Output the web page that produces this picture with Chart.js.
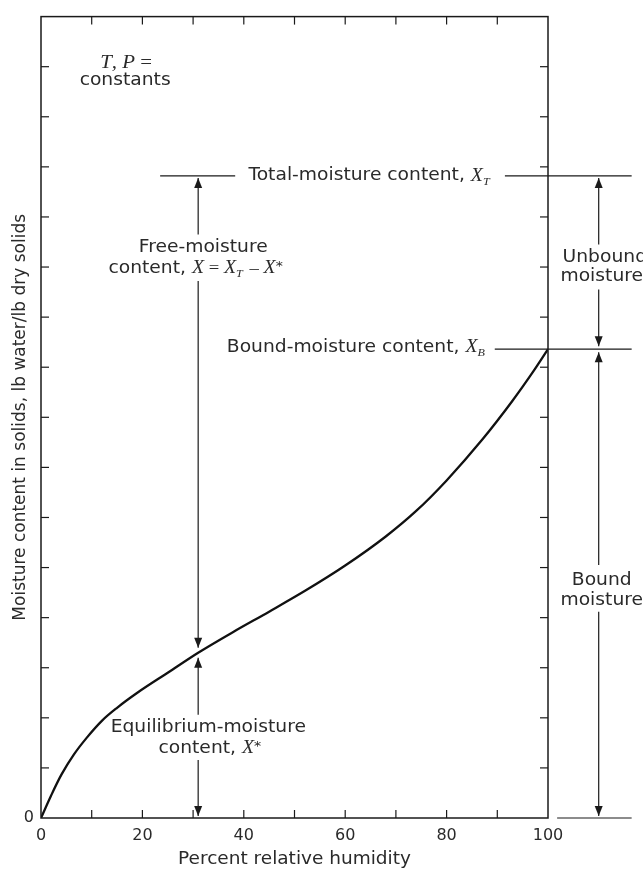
<!DOCTYPE html>
<html>
<head>
<meta charset="utf-8">
<script src="https://cdn.jsdelivr.net/npm/chart.js@4"></script>
<style>
html,body{margin:0;padding:0;background:#fff;}
#wrap{width:643px;height:873px;}
</style>
</head>
<body>
<div id="wrap"><canvas id="c" width="643" height="873"></canvas></div>
<script>
// ---- data ----
const humidity = [0, 2, 4, 6.5, 9, 12, 15, 19, 25, 31, 38, 45, 52, 60, 68, 74, 80, 87, 93, 97, 100];
const moisture = [0, 0.45, 0.86, 1.27, 1.6, 1.94, 2.2, 2.5, 2.9, 3.3, 3.72, 4.12, 4.53, 5.04, 5.62, 6.13, 6.74, 7.55, 8.33, 8.9, 9.36];
const xTickLabels = ['0', '20', '40', '60', '80', '100'];
const yTickLabels = ['0'];
const totalMoistureLevel = 12.82;   // X_T
const boundMoistureLevel = 9.36;    // X_B
const sampleHumidity = 31;          // where X and X* are shown
const equilibriumMoisture = 3.3;    // X* at sampleHumidity

const SANS = '"DejaVu Sans", sans-serif';
const SERIF = '"Liberation Serif", "DejaVu Serif", serif';
const TXT = '#2a2a2a';
const LINE = '#1a1a1a';
const STRETCH = 1.1;

function runsWidth(ctx, runs){
  let w = 0;
  for (const r of runs){ ctx.font = r.font; w += ctx.measureText(r.t).width + (r.kern||0); }
  return w;
}
function drawRuns(ctx, runs, cx, cy){
  const w = runsWidth(ctx, runs);
  ctx.save();
  ctx.translate(cx, cy);
  ctx.scale(STRETCH, 1);
  let x = -w/2;
  ctx.textBaseline = 'middle';
  ctx.textAlign = 'left';
  for (const r of runs){
    ctx.font = r.font;
    ctx.fillText(r.t, x, (r.dy||0));
    x += ctx.measureText(r.t).width + (r.kern||0);
  }
  ctx.restore();
}
function arrowHead(ctx, x, tipY, dir){ // dir -1 up, +1 down
  const L = 10, W = 4;
  ctx.beginPath();
  ctx.moveTo(x, tipY);
  ctx.lineTo(x - W, tipY - dir*L);
  ctx.lineTo(x + W, tipY - dir*L);
  ctx.closePath();
  ctx.fill();
}
function vline(ctx, x, y1, y2){ ctx.beginPath(); ctx.moveTo(x,y1); ctx.lineTo(x,y2); ctx.stroke(); }
function hline(ctx, x1, x2, y){ ctx.beginPath(); ctx.moveTo(x1,y); ctx.lineTo(x2,y); ctx.stroke(); }

const annotate = {
  id: 'annotate',
  afterDraw(chart){
    const ctx = chart.ctx;
    const xs = chart.scales.x, ys = chart.scales.y;
    const X = v => xs.getPixelForValue(v);
    const Y = v => ys.getPixelForValue(v);
    const a = chart.chartArea;
    ctx.save();
    // frame
    ctx.strokeStyle = LINE; ctx.lineWidth = 1.5;
    ctx.strokeRect(a.left, a.top, a.right - a.left, a.bottom - a.top);
    // inward ticks
    ctx.lineWidth = 1.2;
    const tl = 8;
    for (const t of xs.ticks){
      const px = X(t.value);
      if (t.value <= xs.min || t.value >= xs.max) continue;
      vline(ctx, px, a.bottom, a.bottom - tl);
      vline(ctx, px, a.top, a.top + tl);
    }
    for (const t of ys.ticks){
      const py = Y(t.value);
      if (t.value <= ys.min || t.value >= ys.max) continue;
      hline(ctx, a.left, a.left + tl, py);
      hline(ctx, a.right, a.right - tl, py);
    }

    ctx.fillStyle = LINE; ctx.strokeStyle = LINE; ctx.lineWidth = 1.2;
    const fs = 17;
    const F = fs + 'px ' + SANS;
    const FI = 'italic ' + (fs+1) + 'px ' + SERIF;
    const FS = 'italic ' + (fs-6) + 'px ' + SERIF;

    // Total moisture line
    const yT = Y(totalMoistureLevel);
    hline(ctx, X(23.5), X(38.3), yT);
    hline(ctx, X(91.5), X(116.5), yT);
    // Bound moisture line
    const yB = Y(boundMoistureLevel);
    hline(ctx, X(89.5), X(116.5), yB);
    // bottom reference line on right
    hline(ctx, X(101.8), X(116.5), Y(0));

    // free-moisture arrows at sample humidity
    const ax = X(sampleHumidity);
    const yStar = Y(equilibriumMoisture);
    vline(ctx, ax, yT + 2, Y(11.65));
    arrowHead(ctx, ax, yT + 2, -1);
    vline(ctx, ax, Y(10.72), yStar - 5);
    arrowHead(ctx, ax, yStar - 5, 1);
    vline(ctx, ax, yStar + 5, Y(2.06));
    arrowHead(ctx, ax, yStar + 5, -1);
    vline(ctx, ax, Y(1.16), Y(0) - 2);
    arrowHead(ctx, ax, Y(0) - 2, 1);

    // right-hand arrows
    const rx = X(110);
    vline(ctx, rx, yT + 2, Y(11.45));
    arrowHead(ctx, rx, yT + 2, -1);
    vline(ctx, rx, Y(10.55), yB - 3);
    arrowHead(ctx, rx, yB - 3, 1);
    vline(ctx, rx, yB + 3, Y(5.05));
    arrowHead(ctx, rx, yB + 3, -1);
    vline(ctx, rx, Y(4.12), Y(0) - 2);
    arrowHead(ctx, rx, Y(0) - 2, 1);

    ctx.fillStyle = TXT;
    // texts
    const FI2 = 'italic 19px ' + SERIF;
    drawRuns(ctx, [{t:'T', font:FI2}, {t:', ', font:FI2}, {t:'P', font:FI2}, {t:' =', font:'19px '+SERIF}], X(16.8), Y(15.07));
    drawRuns(ctx, [{t:'constants', font:F}], X(16.6), Y(14.72));

    drawRuns(ctx, [{t:'Total-moisture content, ', font:F}, {t:'X', font:FI}, {t:'T', font:FS, dy:6}], X(64.7), yT);
    drawRuns(ctx, [{t:'Bound-moisture content, ', font:F}, {t:'X', font:FI}, {t:'B', font:FS, dy:6}], X(62.1), yB - 2);

    drawRuns(ctx, [{t:'Free-moisture', font:F}], X(32), Y(11.39));
    drawRuns(ctx, [{t:'content, ', font:F}, {t:'X', font:FI}, {t:' = ', font:(fs)+'px '+SERIF}, {t:'X', font:FI}, {t:'T', font:FS, dy:6, kern:2},
                   {t:' \u2013 ', font:(fs)+'px '+SERIF}, {t:'X', font:FI}, {t:'*', font:(fs-4)+'px '+SANS, dy:-2}], X(30.5), Y(10.97));

    drawRuns(ctx, [{t:'Equilibrium-moisture', font:F}], X(33), Y(1.81));
    drawRuns(ctx, [{t:'content, ', font:F}, {t:'X', font:FI}, {t:'*', font:(fs-4)+'px '+SANS, dy:-2}], X(33.3), Y(1.39));

    drawRuns(ctx, [{t:'Unbound', font:F}], X(111.2), Y(11.19));
    drawRuns(ctx, [{t:'moisture', font:F}], X(110.6), Y(10.8));
    drawRuns(ctx, [{t:'Bound', font:F}], X(110.6), Y(4.75));
    drawRuns(ctx, [{t:'moisture', font:F}], X(110.6), Y(4.35));
    ctx.restore();
  }
};

new Chart(document.getElementById('c'), {
  type: 'line',
  data: {
    datasets: [{
      data: humidity.map((h, i) => ({x: h, y: moisture[i]})),
      borderColor: '#111',
      borderWidth: 2.3,
      pointRadius: 0,
      fill: false,
      cubicInterpolationMode: 'monotone'
    }]
  },
  options: {
    responsive: false,
    animation: false,
    devicePixelRatio: 1,
    layout: { padding: { top: 13, right: 95, left: 0, bottom: 0 } },
    plugins: { legend: { display: false }, tooltip: { enabled: false } },
    scales: {
      x: {
        type: 'linear', min: 0, max: 100,
        grid: { display: false, drawTicks: false },
        border: { display: false },
        ticks: {
          stepSize: 10, padding: 8, color: TXT, maxRotation: 0, autoSkip: false,
          font: { family: SANS, size: 16 },
          callback: v => xTickLabels.includes(String(v)) ? String(v) : ''
        },
        title: { display: true, text: 'Percent relative humidity', color: TXT,
                 font: { family: SANS, size: 18.5 }, padding: { top: 0, bottom: 3 } },
        afterFit: s => { s.height = 55; }
      },
      y: {
        type: 'linear', min: 0, max: 16,
        grid: { display: false, drawTicks: false },
        border: { display: false },
        ticks: {
          stepSize: 1, padding: 7, color: TXT, autoSkip: false,
          font: { family: SANS, size: 16 },
          callback: v => yTickLabels.includes(String(v)) ? String(v) : ''
        },
        title: { display: true, text: 'Moisture content in solids, lb water/lb dry solids', color: TXT,
                 font: { family: SANS, size: 17 }, padding: { top: 10, bottom: 0 } },
        afterFit: s => { s.width = 41; }
      }
    }
  },
  plugins: [annotate]
});
</script>
</body>
</html>
